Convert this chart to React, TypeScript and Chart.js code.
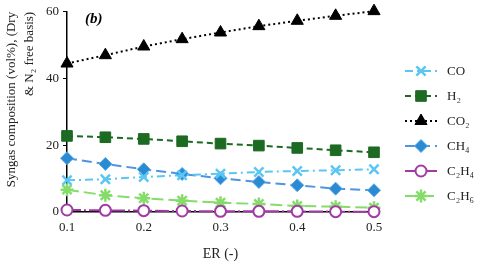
import React, { useEffect, useRef } from "react";
import { Chart, registerables } from "chart.js";
import { drawPoint } from "chart.js/helpers";

Chart.register(...registerables);

const erValues = [0.1, 0.15, 0.2, 0.25, 0.3, 0.35, 0.4, 0.45, 0.5];
const coValues = [9.5, 9.8, 10.5, 11.0, 11.5, 12.0, 12.3, 12.5, 12.8];
const h2Values = [22.8, 22.4, 21.9, 21.2, 20.5, 19.9, 19.2, 18.5, 17.9];
const co2Values = [44.5, 47.0, 49.6, 51.8, 53.8, 55.7, 57.3, 58.8, 60.2];
const ch4Values = [16.1, 14.4, 12.8, 11.4, 10.1, 9.0, 8.0, 7.0, 6.5];
const c2h4Values = [0.6, 0.5, 0.4, 0.3, 0.2, 0.2, 0.2, 0.1, 0.1];
const c2h6Values = [6.7, 5.0, 4.1, 3.4, 2.8, 2.4, 1.8, 1.6, 1.3];
const seriesNames = ["CO", "H\u2082", "CO\u2082", "CH\u2084", "C\u2082H\u2084", "C\u2082H\u2086"];
const yTicks = [0, 20, 40, 60];
const xTicks = [0.1, 0.2, 0.3, 0.4, 0.5];

const SERIF = "'Liberation Serif', 'Times New Roman', serif";

const toPoints = (vals: number[]) => vals.map((v, i) => ({ x: erValues[i], y: v }));

const legendPlugin = {
  id: "customLegend",
  afterDraw(chart: any) {
    const ctx = chart.ctx;
    const x0 = 405;
    const x1 = 437;
    const tx = 447;
    const y0 = 71;
    const dy = 25;
    chart.data.datasets.forEach((ds: any, i: number) => {
      const y = y0 + i * dy;
      ctx.save();
      ctx.strokeStyle = ds.borderColor;
      ctx.lineWidth = ds.borderWidth;
      ctx.setLineDash(ds.borderDash || []);
      ctx.beginPath();
      ctx.moveTo(x0, y);
      ctx.lineTo(x1, y);
      ctx.stroke();
      ctx.setLineDash([]);
      ctx.fillStyle = ds.pointBackgroundColor;
      ctx.strokeStyle = ds.pointBorderColor;
      ctx.lineWidth = ds.pointBorderWidth;
      drawPoint(
        ctx,
        { pointStyle: ds.pointStyle, radius: ds.pointRadius, rotation: 0, borderWidth: ds.pointBorderWidth },
        (x0 + x1) / 2,
        y
      );
      ctx.fillStyle = "#222";
      ctx.font = `13px ${SERIF}`;
      ctx.textAlign = "left";
      ctx.textBaseline = "middle";
      ctx.fillText(ds.label, tx, y + 1);
      ctx.restore();
    });
  },
};

const panelLabelPlugin = {
  id: "panelLabel",
  afterDraw(chart: any) {
    const ctx = chart.ctx;
    ctx.save();
    ctx.fillStyle = "#000";
    ctx.font = `italic bold 15px ${SERIF}`;
    ctx.textAlign = "left";
    ctx.textBaseline = "middle";
    ctx.fillText("(b)", chart.chartArea.left + 18, chart.chartArea.top + 7);
    ctx.restore();
  },
};

export default function App() {
  const canvasRef = useRef<HTMLCanvasElement | null>(null);

  useEffect(() => {
    if (!canvasRef.current) return;
    const mk = (
      label: string,
      data: number[],
      color: string,
      dash: number[],
      pointStyle: string,
      radius: number,
      fill: string,
      pborder: string,
      pbw: number
    ) => ({
      label,
      data: toPoints(data),
      borderColor: color,
      borderWidth: 2,
      borderDash: dash,
      pointStyle,
      pointRadius: radius,
      pointBackgroundColor: fill,
      pointBorderColor: pborder,
      pointBorderWidth: pbw,
      fill: false,
      tension: 0,
      clip: false,
    });
    const chart = new Chart(canvasRef.current, {
      type: "line",
      data: {
        datasets: [
          mk(seriesNames[0], coValues, "#5cc6f2", [8, 4, 2, 4], "crossRot", 6.5, "#5cc6f2", "#5cc6f2", 2.5),
          mk(seriesNames[1], h2Values, "#1d6a22", [6, 4], "rect", 7.5, "#1d6a22", "#1d6a22", 1),
          mk(seriesNames[2], co2Values, "#000000", [2, 3], "triangle", 7, "#000000", "#000000", 1),
          mk(seriesNames[3], ch4Values, "#4f94e0", [10, 5], "rectRot", 6.5, "#2a8ad2", "#5aa8e8", 1),
          mk(seriesNames[4], c2h4Values, "#a23aa6", [14, 3, 2, 3], "circle", 5.5, "#ffffff", "#a23aa6", 2),
          mk(seriesNames[5], c2h6Values, "#86dc6a", [12, 5], "star", 6.5, "#86dc6a", "#86dc6a", 2.5),
        ],
      },
      options: {
        animation: false,
        responsive: false,
        maintainAspectRatio: false,
        layout: { padding: { top: 10, right: 106, left: 0, bottom: 0 } },
        plugins: {
          legend: { display: false },
          tooltip: { enabled: false },
        },
        scales: {
          x: {
            type: "linear",
            min: 0.1,
            max: 0.5,
            afterBuildTicks: (scale: any) => {
              scale.ticks = xTicks.map((v) => ({ value: v }));
            },
            afterFit: (scale: any) => {
              scale.height = 51;
            },
            border: { color: "#000", width: 1.5 },
            grid: { display: true, drawOnChartArea: false, drawTicks: true, tickLength: 4, color: "#000" },
            ticks: {
              color: "#222",
              font: { family: SERIF, size: 13 },
              padding: 4,
              callback: (v: any) => Number(v).toFixed(1),
            },
            title: {
              display: true,
              text: "ER (-)",
              color: "#222",
              font: { family: SERIF, size: 14 },
              padding: { top: 2, bottom: 0 },
            },
          },
          y: {
            min: 0,
            max: 60,
            afterBuildTicks: (scale: any) => {
              scale.ticks = yTicks.map((v) => ({ value: v }));
            },
            afterFit: (scale: any) => {
              scale.width = 67;
            },
            border: { color: "#000", width: 1.5 },
            grid: { display: true, drawOnChartArea: false, drawTicks: true, tickLength: 4, color: "#000" },
            ticks: {
              color: "#222",
              font: { family: SERIF, size: 13 },
              padding: 4,
            },
            title: {
              display: true,
              align: "end",
              text: ["Syngas composition (vol%), (Dry", "& N\u2082 free basis)"],
              color: "#222",
              font: { family: SERIF, size: 13, lineHeight: 1.4 },
              padding: { top: 2, bottom: 0 },
            },
          },
        },
      },
      plugins: [legendPlugin, panelLabelPlugin],
    } as any);
    return () => chart.destroy();
  }, []);

  return (
    <div style={{ position: "fixed", left: 0, top: 0, width: 480, height: 263, background: "#fff" }}>
      <canvas ref={canvasRef} width={480} height={263} style={{ width: 480, height: 263 }} />
    </div>
  );
}
